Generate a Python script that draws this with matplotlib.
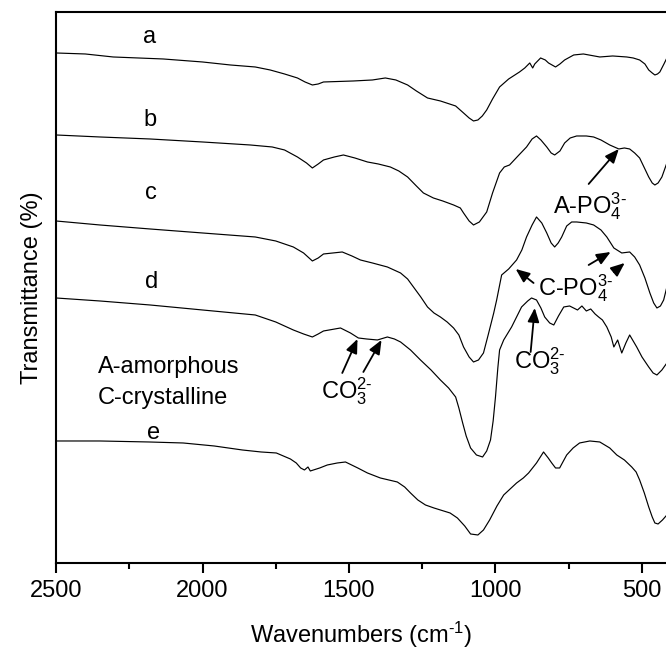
import numpy as np
import matplotlib
matplotlib.use("Agg")
import matplotlib.pyplot as plt
from matplotlib.ticker import MultipleLocator

# --- Fonts --- #
plt.rcParams['font.family'] = ['Liberation Sans', 'DejaVu Sans']
plt.rcParams['mathtext.fontset'] = 'custom'
plt.rcParams['mathtext.rm'] = 'Liberation Sans'
plt.rcParams['mathtext.it'] = 'Liberation Sans:italic'
plt.rcParams['mathtext.bf'] = 'Liberation Sans:bold'

# ---- Spectra (wavenumber in cm-1, stacked transmittance, arb. units) ---- #
wn_a = [2500, 2400, 2305, 2134, 2000, 1905, 1820, 1769, 1720, 1676, 1650, 1625, 1605, 1587,
        1485, 1420, 1376, 1340, 1300, 1270, 1232, 1188, 1136, 1109, 1090, 1075, 1060, 1045,
        1030, 1010, 986, 955, 918, 900, 883, 873, 866, 846, 830, 819, 795, 780, 764, 733,
        700, 644, 600, 552, 530, 508, 490, 477, 465, 456, 447, 439, 425, 415]
t_a = [510, 509, 506, 504, 501, 498, 496, 493, 489, 485, 481, 478, 479, 481,
       482, 483, 485, 483, 478, 472, 465, 462, 457, 450, 445, 442, 443, 447,
       453, 464, 476, 484, 491, 495, 500, 495, 499, 505, 503, 500, 496, 499, 503, 508,
       509, 506, 507, 506, 505, 503, 499, 493, 490, 488, 489, 491, 499, 505]

wn_b = [2500, 2350, 2179, 2000, 1837, 1762, 1720, 1676, 1645, 1625, 1605, 1587, 1550, 1519,
        1480, 1437, 1400, 1359, 1330, 1300, 1270, 1246, 1212, 1180, 1143, 1120, 1109, 1090,
        1075, 1055, 1030, 1010, 986, 970, 952, 920, 894, 875, 860, 845, 825, 810, 798, 780,
        764, 745, 723, 690, 665, 640, 610, 579, 560, 542, 525, 508, 490, 477, 465, 456,
        445, 432, 415]
t_b = [428, 426, 424, 421, 418, 416, 413, 406, 400, 395, 399, 403, 406, 408,
       405, 401, 399, 396, 392, 386, 377, 370, 365, 362, 358, 355, 350, 342,
       338, 341, 351, 370, 390, 396, 398, 408, 416, 424, 427, 423, 416, 410, 408, 412,
       420, 425, 427, 427, 426, 423, 418, 414, 415, 414, 410, 405, 394, 386, 380, 378,
       380, 386, 400]

wn_c = [2500, 2350, 2179, 2000, 1820, 1750, 1690, 1655, 1625, 1605, 1587, 1523, 1490, 1461,
        1420, 1369, 1324, 1300, 1280, 1255, 1232, 1210, 1188, 1165, 1143, 1125, 1109, 1090,
        1075, 1058, 1041, 1025, 1006, 996, 979, 955, 928, 910, 894, 875, 860, 842, 825, 810,
        798, 786, 774, 757, 740, 723, 690, 665, 640, 620, 596, 569, 542, 525, 508, 490, 473,
        460, 449, 437, 426, 415]
t_c = [342, 338, 334, 330, 326, 322, 316, 310, 302, 305, 309, 311, 307, 303,
       300, 296, 290, 284, 276, 266, 256, 250, 246, 241, 235, 228, 216, 206,
       201, 203, 210, 228, 250, 263, 288, 294, 303, 313, 326, 338, 346, 340, 330, 320,
       316, 320, 326, 337, 341, 341, 340, 338, 333, 326, 315, 310, 311, 306, 298, 285, 270,
       260, 255, 257, 263, 276]

wn_d = [2500, 2350, 2179, 2000, 1820, 1750, 1690, 1655, 1625, 1605, 1587, 1529, 1495, 1468,
        1440, 1403, 1369, 1345, 1324, 1290, 1256, 1220, 1188, 1160, 1136, 1125, 1112, 1100,
        1085, 1065, 1044, 1030, 1017, 1008, 1000, 992, 986, 972, 945, 911, 890, 877, 860,
        845, 832, 815, 801, 785, 767, 747, 720, 705, 690, 675, 660, 648, 635, 620, 605, 596,
        583, 569, 555, 542, 530, 518, 500, 477, 462, 449, 432, 415]
t_d = [265, 262, 258, 253, 248, 241, 233, 229, 226, 229, 232, 235, 230, 225,
       224, 223, 226, 224, 221, 213, 203, 193, 183, 175, 166, 155, 140, 127,
       115, 108, 106, 112, 123, 142, 166, 195, 213, 223, 236, 256, 262, 265, 263,
       255, 246, 240, 238, 247, 256, 257, 253, 257, 252, 254, 249, 246, 243, 236, 226, 216,
       223, 210, 220, 228, 222, 216, 206, 196, 190, 188, 193, 200]

wn_e = [2500, 2350, 2182, 2066, 1960, 1864, 1800, 1748, 1700, 1680, 1665, 1652, 1640, 1632,
        1600, 1574, 1540, 1512, 1470, 1437, 1393, 1335, 1310, 1290, 1265, 1239, 1210, 1188,
        1155, 1130, 1105, 1085, 1060, 1041, 1020, 995, 972, 950, 928, 905, 887, 860, 836,
        820, 808, 795, 781, 770, 757, 735, 713, 678, 644, 610, 586, 560, 535, 520, 508, 492,
        477, 465, 456, 445, 430, 415]
t_e = [122, 122, 121, 120, 117, 113, 111, 110, 104, 100, 95, 93, 96, 92,
       95, 98, 100, 101, 95, 90, 85, 81, 76, 70, 63, 58, 55, 53,
       50, 45, 37, 29, 28, 33, 43, 57, 68, 74, 80, 85, 90, 100, 111,
       105, 100, 95, 95, 101, 108, 115, 120, 122, 121, 115, 108, 103, 96, 91, 83, 70,
       56, 46, 40, 39, 43, 48]

spectra = [(wn_a, t_a), (wn_b, t_b), (wn_c, t_c), (wn_d, t_d), (wn_e, t_e)]

# curve labels and where they sit
curve_labels = ['a', 'b', 'c', 'd', 'e']
label_wn = [2179, 2179, 2175, 2175, 2168]
label_t = [526, 443, 370, 281, 130]

# band annotations: text, text anchor, arrow tails and heads
band_text = ['A-PO$_4^{3\u2010}$', 'C-PO$_4^{3\u2010}$', 'CO$_3^{2\u2010}$', 'CO$_3^{2\u2010}$']
band_xy = [(805, 350), (856, 268), (938, 195), (1594, 165)]
arrow_tail = [(682, 379), (870, 280), (682, 298), (596, 291), (880, 211), (1523, 190), (1451, 191)]
arrow_head = [(579, 414), (931, 294), (607, 311), (559, 300), (866, 255), (1471, 224), (1389, 223)]

# ---- Figure ---- #
fig = plt.figure(figsize=(6.66, 6.51), dpi=100)
ax = fig.add_axes([0.0841, 0.1352, 0.9159, 0.8464])

for wn, t in spectra:
    ax.plot(wn, t, color='black', lw=0.85)

for lab, x, y in zip(curve_labels, label_wn, label_t):
    ax.text(x, y, lab, fontsize=17, ha='center', va='center')

for txt, (x, y) in zip(band_text, band_xy):
    ax.text(x, y, txt, fontsize=17, ha='left', va='baseline')

for tail, head in zip(arrow_tail, arrow_head):
    ax.annotate('', xy=head, xytext=tail,
                arrowprops=dict(arrowstyle='-|>,head_length=0.6,head_width=0.25',
                                color='black', lw=1.3, mutation_scale=14,
                                shrinkA=0, shrinkB=0))

ax.text(2357, 196, 'A-amorphous', fontsize=17, ha='left', va='center')
ax.text(2357, 165, 'C-crystalline', fontsize=17, ha='left', va='center')

ax.set_xlim(2500, 418)
ax.set_ylim(0, 551)

ax.xaxis.set_major_locator(MultipleLocator(500))
ax.xaxis.set_minor_locator(MultipleLocator(250))
ax.set_yticks([])
ax.tick_params(axis='x', which='major', direction='out', length=7, width=1.5,
               labelsize=17, pad=5)
ax.tick_params(axis='x', which='minor', direction='out', length=4, width=1.5)

for side in ['left', 'bottom', 'top']:
    ax.spines[side].set_linewidth(1.5)
ax.spines['right'].set_visible(False)

ax.set_xlabel('Wavenumbers (cm$^{\u20101}$)', fontsize=17)
ax.set_ylabel('Transmittance (%)', fontsize=17)
ax.xaxis.set_label_coords(0.5, -0.104)
ax.yaxis.set_label_coords(-0.022, 0.5)

fig.savefig('out.png', dpi=100)
